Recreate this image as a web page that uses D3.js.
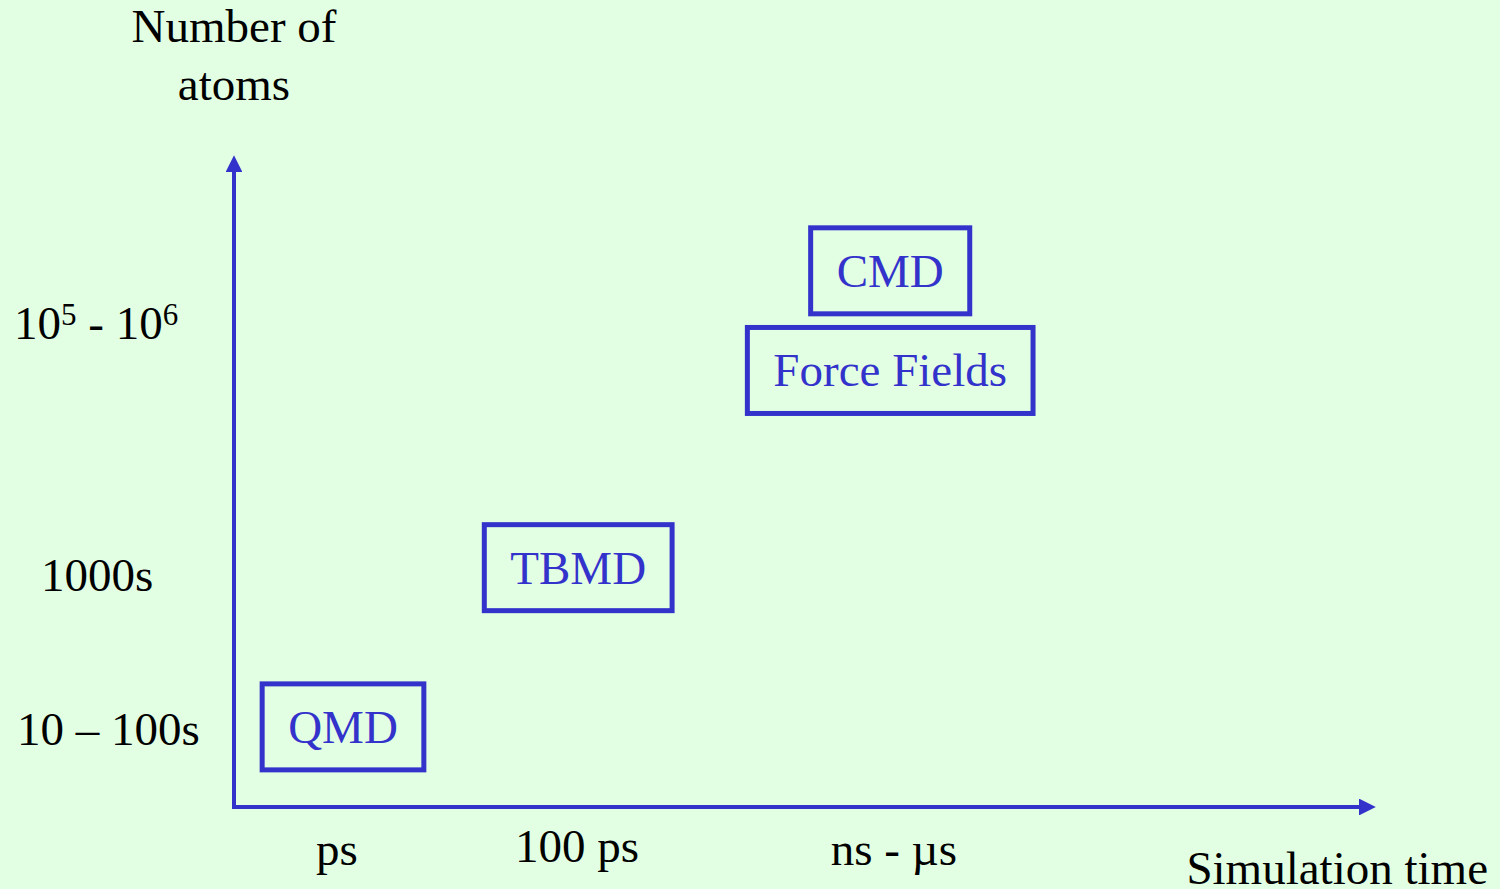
<!DOCTYPE html>
<meta charset="utf-8">
<head>
<style>
  body { margin: 0; background: #e3ffe3; }
  svg { display: block; }
  text { font-family: "Liberation Serif", "Times New Roman", serif; }
</style>
</head>
<body>
  <script src="https://d3js.org/d3.v7.min.js"></script>
  <script>
    // x: log10 of simulated time (s), y: log10 of number of atoms
    var timeLabels = ["ps", "100 ps", "ns - \u00b5s"];
    var timeValues = [-12, -10, -7.36];
    var atomLabels = ["10 \u2013 100s", "1000s", "10^5 - 10^6"];
    var atomValues = [1.5, 3, 5.45];

    var methods = ["QMD", "TBMD", "Force Fields", "CMD"];
    var methodTime = [-11.95, -9.99, -7.39, -7.39];
    var methodAtoms = [1.52, 3.07, 4.99, 5.96];

    var width = 1500,
      height = 889;

    var blue = "#3333cc";
    var fs = 47;

    var x = d3.scaleLinear().domain([-13, -3]).range([217, 1417]);
    var y = d3.scaleLinear().domain([0, 7]).range([883, 164]);

    var svg = d3.select("body")
      .append("svg")
      .attr("width", width)
      .attr("height", height);

    svg.append("rect")
      .attr("width", width)
      .attr("height", height)
      .attr("fill", "#e3ffe3");

    var defs = svg.append("defs");
    defs.append("marker")
      .attr("id", "arrow")
      .attr("viewBox", "0 0 10 10")
      .attr("refX", 0)
      .attr("refY", 5)
      .attr("markerWidth", 4.2)
      .attr("markerHeight", 4.2)
      .attr("markerUnits", "strokeWidth")
      .attr("orient", "auto")
      .append("path")
      .attr("d", "M0,0L10,5L0,10Z")
      .attr("fill", blue);

    // axes
    var ox = 234, oy = 807;
    svg.append("line")
      .attr("x1", ox).attr("y1", oy + 2)
      .attr("x2", ox).attr("y2", 172)
      .attr("stroke", blue)
      .attr("stroke-width", 4)
      .attr("marker-end", "url(#arrow)");

    svg.append("line")
      .attr("x1", ox - 2).attr("y1", oy)
      .attr("x2", 1359).attr("y2", oy)
      .attr("stroke", blue)
      .attr("stroke-width", 4)
      .attr("marker-end", "url(#arrow)");

    // axis titles
    svg.append("text")
      .attr("x", 234).attr("y", 42)
      .attr("text-anchor", "middle")
      .attr("font-size", fs)
      .text("Number of");
    svg.append("text")
      .attr("x", 234).attr("y", 100)
      .attr("text-anchor", "middle")
      .attr("font-size", fs)
      .text("atoms");
    svg.append("text")
      .attr("x", 1488).attr("y", 884)
      .attr("text-anchor", "end")
      .attr("font-size", fs)
      .text("Simulation time");

    // time tick labels
    svg.selectAll(".tlabel")
      .data(timeLabels)
      .enter().append("text")
      .attr("class", "tlabel")
      .attr("x", function (d, i) { return x(timeValues[i]); })
      .attr("y", function (d, i) { return i == 1 ? 862 : 865; })
      .attr("text-anchor", "middle")
      .attr("font-size", fs)
      .text(function (d) { return d; });

    // atom tick labels
    var alab = svg.selectAll(".alabel")
      .data(atomLabels)
      .enter().append("text")
      .attr("class", "alabel")
      .attr("x", function (d, i) { return [17, 41, 14][i]; })
      .attr("y", function (d, i) { return y(atomValues[i]) + 16; })
      .attr("font-size", fs);

    alab.each(function (d) {
      var t = d3.select(this);
      var parts = d.split(/\^(\d)/);
      parts.forEach(function (p, k) {
        if (k % 2 == 1) {
          t.append("tspan").attr("dy", -14).attr("font-size", 31).text(p);
        } else if (p.length) {
          t.append("tspan").attr("dy", k > 0 ? 14 : 0).text(p);
        }
      });
    });

    // method boxes
    var boxH = 86, padX = 26;
    var g = svg.selectAll(".method")
      .data(methods)
      .enter().append("g")
      .attr("class", "method")
      .attr("transform", function (d, i) {
        return "translate(" + x(methodTime[i]) + "," + y(methodAtoms[i]) + ")";
      });

    g.append("text")
      .attr("text-anchor", "middle")
      .attr("y", 16)
      .attr("font-size", fs)
      .attr("fill", blue)
      .text(function (d) { return d; });

    g.insert("rect", "text")
      .each(function () {
        var bb = this.parentNode.querySelector("text").getBBox();
        var w = bb.width + 2 * padX;
        d3.select(this)
          .attr("x", -w / 2)
          .attr("y", -boxH / 2)
          .attr("width", w)
          .attr("height", boxH);
      })
      .attr("fill", "none")
      .attr("stroke", blue)
      .attr("stroke-width", 5);
  </script>
</body>
</html>
